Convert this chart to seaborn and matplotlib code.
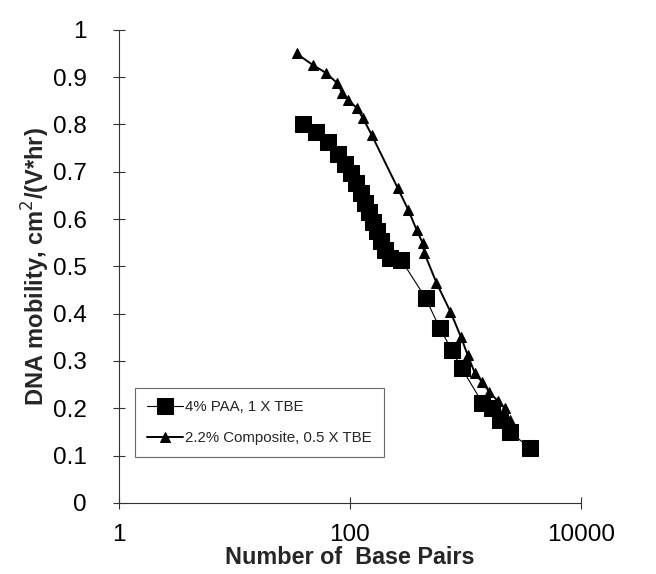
import matplotlib
matplotlib.use("Agg")
import matplotlib.pyplot as plt
import seaborn as sns
import pandas as pd
from matplotlib.ticker import FixedLocator, FixedFormatter

sns.set_theme(style="white")
plt.rcParams['font.family'] = ['Liberation Sans', 'DejaVu Sans']

# Series 1: 4% PAA, 1 X TBE (squares)
paa_bp = [39, 51, 64, 79, 90, 102, 113, 124, 135, 146, 158, 171, 185, 201, 222, 277,
          451, 596, 760, 922, 1400, 1700, 1990, 2410, 3600]
paa_mob = [0.800, 0.785, 0.763, 0.738, 0.717, 0.698, 0.676, 0.655, 0.634, 0.615, 0.594,
           0.575, 0.554, 0.535, 0.518, 0.514, 0.433, 0.370, 0.323, 0.285, 0.211, 0.200,
           0.175, 0.150, 0.116]

# Series 2: 2.2% Composite, 0.5 X TBE (triangles)
comp_bp = [34.5, 47.5, 62, 77, 86, 97, 114, 129, 154, 258, 320, 377, 424, 440, 560,
           740, 910, 1040, 1200, 1380, 1600, 1900, 2180, 2400, 2560]
comp_mob = [0.950, 0.926, 0.909, 0.888, 0.867, 0.852, 0.835, 0.814, 0.778, 0.666, 0.619,
            0.577, 0.550, 0.528, 0.465, 0.404, 0.351, 0.313, 0.275, 0.256, 0.235, 0.215,
            0.200, 0.175, 0.158]

labels = ["4% PAA, 1 X TBE", "2.2% Composite, 0.5 X TBE"]
y_ticks = [0, 0.1, 0.2, 0.3, 0.4, 0.5, 0.6, 0.7, 0.8, 0.9, 1]
y_tick_labels = ["0", "0.1", "0.2", "0.3", "0.4", "0.5", "0.6", "0.7", "0.8", "0.9", "1"]
x_ticks = [1, 100, 10000]
x_tick_labels = ["1", "100", "10000"]

df1 = pd.DataFrame({"bp": paa_bp, "mob": paa_mob})
df2 = pd.DataFrame({"bp": comp_bp, "mob": comp_mob})

fig = plt.figure(figsize=(6.56, 5.74), dpi=100)
ax = fig.add_axes([0.181, 0.124, 0.705, 0.824])

sns.lineplot(data=df1, x="bp", y="mob", ax=ax, color="black", linewidth=0.8,
             marker="s", markersize=11, markeredgecolor="black", sort=False,
             label=labels[0], zorder=3)
sns.lineplot(data=df2, x="bp", y="mob", ax=ax, color="black", linewidth=1.4,
             marker="^", markersize=7.5, markeredgecolor="black", sort=False,
             label=labels[1], zorder=4)

ax.set_xscale("log")
ax.set_xlim(1, 10000)
ax.set_ylim(0, 1)
ax.xaxis.set_major_locator(FixedLocator(x_ticks))
ax.xaxis.set_major_formatter(FixedFormatter(x_tick_labels))
ax.xaxis.set_minor_locator(FixedLocator([]))
ax.yaxis.set_major_locator(FixedLocator(y_ticks))
ax.yaxis.set_major_formatter(FixedFormatter(y_tick_labels))

for side in ["top", "right"]:
    ax.spines[side].set_visible(False)
for side in ["left", "bottom"]:
    ax.spines[side].set_color("#333333")
    ax.spines[side].set_linewidth(0.8)

ax.tick_params(axis="both", which="major", direction="inout", length=9, width=0.8,
               color="#333333", labelsize=17.5, labelcolor="black", left=True, bottom=True)
ax.tick_params(axis="y", pad=18.5)
ax.tick_params(axis="x", pad=11)

ax.set_xlabel("Number of  Base Pairs", fontsize=16.8, fontweight="bold", labelpad=0)
ax.set_ylabel("DNA mobility, cm$^2$/(V*hr)", fontsize=17, fontweight="bold", labelpad=1)

leg = ax.legend(loc="lower left", bbox_to_anchor=(0.035, 0.097), fontsize=10.8,
                frameon=True, fancybox=False, borderpad=0.8, labelspacing=1.1,
                handlelength=2.4, handletextpad=0.15, borderaxespad=0)
leg.get_frame().set_edgecolor("#444444")
leg.get_frame().set_linewidth(0.8)

fig.savefig("out.png", dpi=100, facecolor="white")
